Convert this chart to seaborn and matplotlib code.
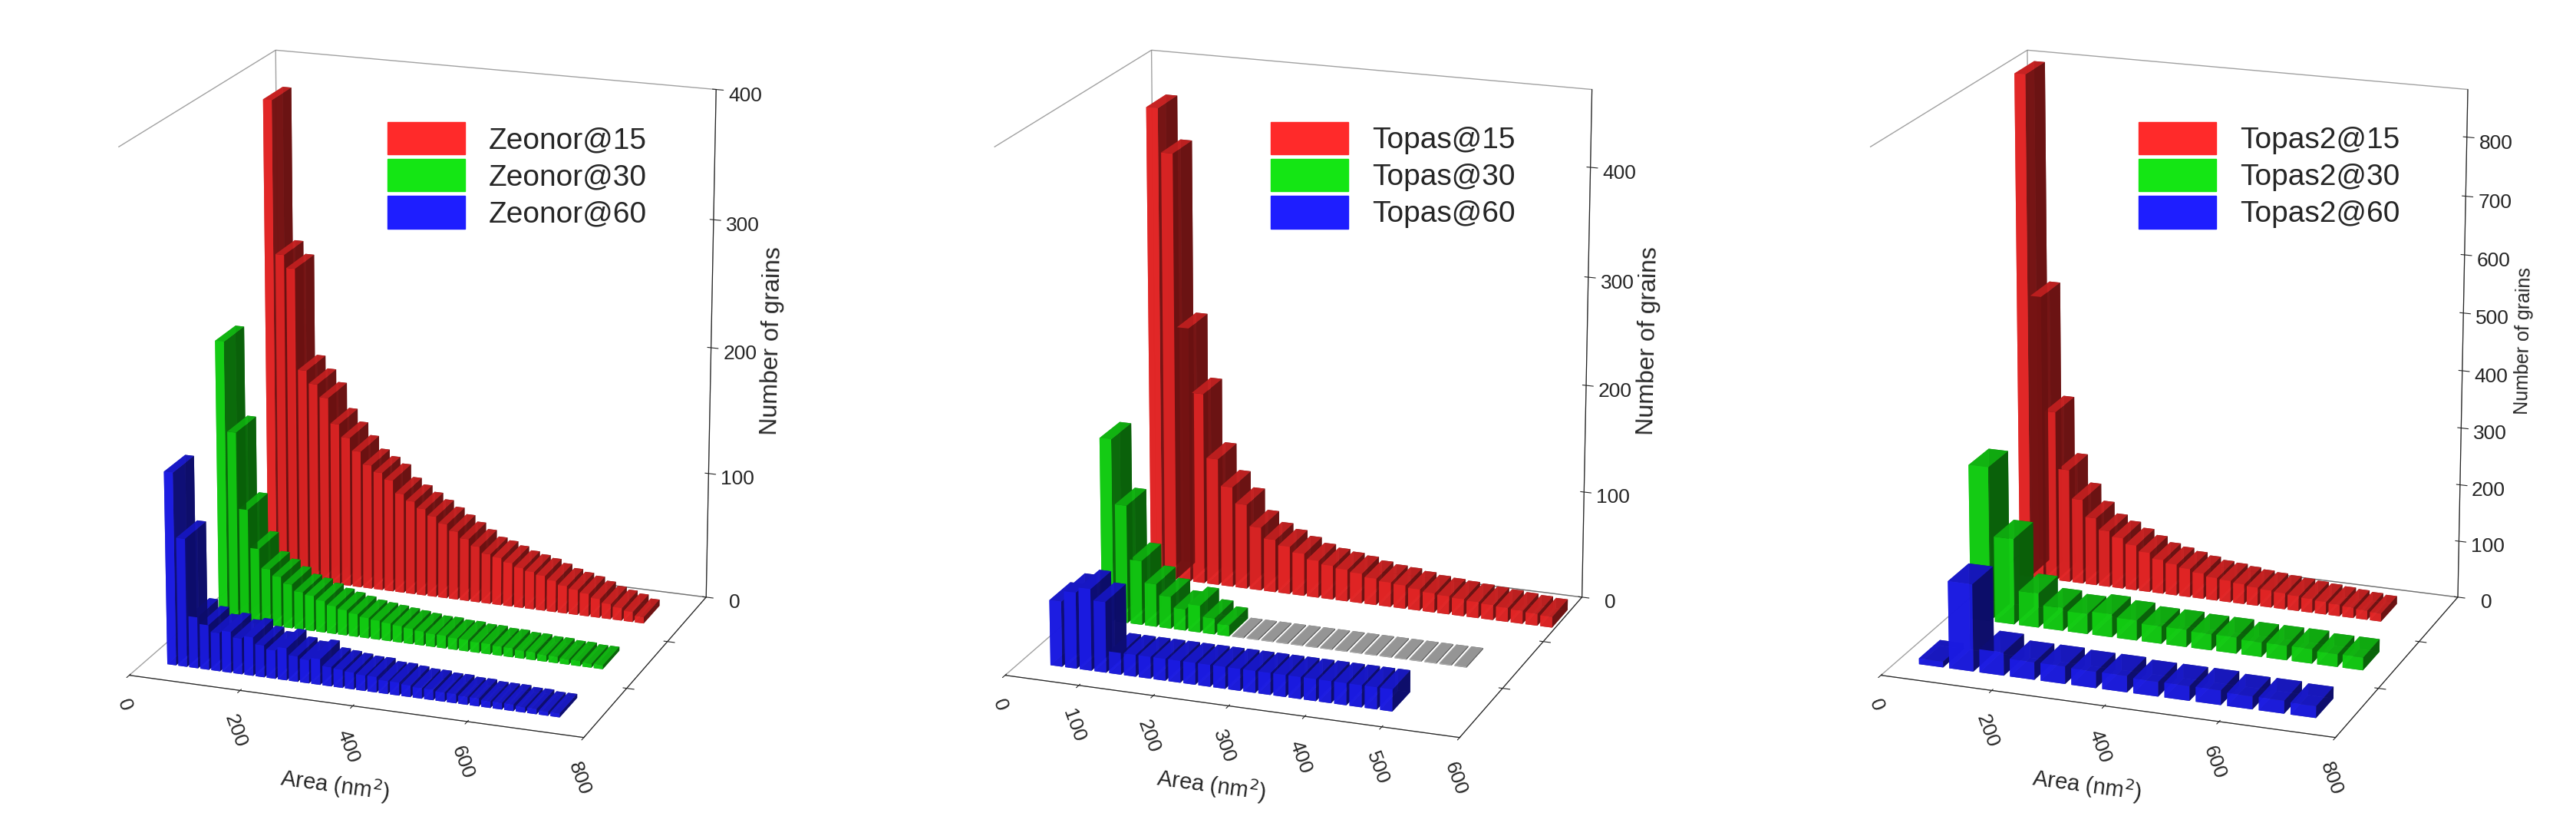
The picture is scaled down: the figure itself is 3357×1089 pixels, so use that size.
import numpy as np
import seaborn as sns
import matplotlib
matplotlib.use('Agg')
import matplotlib.pyplot as plt
from matplotlib.patches import Patch

sns.set_style('white')
plt.rcParams['font.family'] = ['Liberation Sans', 'DejaVu Sans']

# bin width and values (counts per area bin)
zeonor_bin = 20
zeonor_15 = [380, 260, 250, 170, 160, 150, 130, 120, 110, 100, 95, 90, 80, 75, 70, 65, 60, 55,
             50, 45, 40, 38, 35, 32, 30, 28, 25, 22, 20, 18, 15, 12, 10, 8, 5]
zeonor_30 = [220, 150, 90, 60, 45, 40, 35, 30, 28, 25, 22, 20, 18, 16, 15, 14, 13, 12, 11, 10,
             10, 9, 9, 8, 8, 7, 7, 6, 6, 5, 5, 4, 4, 3, 3]
zeonor_60 = [150, 100, 40, 35, 30, 32, 28, 30, 25, 22, 25, 20, 18, 20, 15, 14, 13, 12, 12, 10,
             10, 9, 8, 8, 7, 7, 6, 6, 5, 5, 5, 4, 4, 3, 3]

topas_bin = 20
topas_15 = [440, 400, 240, 180, 120, 95, 80, 60, 50, 45, 40, 35, 32, 30, 28, 25, 23, 22, 20, 18,
            17, 16, 15, 14, 13, 12, 11, 10]
topas_30 = [170, 110, 60, 40, 30, 20, 25, 15, 10, 0, 0, 0, 0, 0, 0, 0, 0, 0, 0, 0, 0, 0, 0, 0, 0]
topas_60 = [60, 70, 75, 65, 20, 20, 20, 20, 20, 20, 20, 20, 20, 20, 20, 20, 20, 20, 20, 20, 20, 20, 20]

topas2_bin = 25
topas2_15 = [880, 500, 300, 200, 150, 120, 100, 90, 80, 70, 60, 55, 50, 45, 40, 38, 35, 32, 30,
             28, 26, 24, 22, 20, 18, 16, 14]
topas2_bin_30 = 45
topas2_30 = [270, 150, 60, 40, 35, 40, 35, 30, 30, 28, 28, 25, 25, 25, 22, 22]
topas2_bin_60 = 55
topas2_60 = [10, 150, 40, 30, 30, 28, 28, 25, 25, 25, 22, 22, 20]

panels = [
    ('Zeonor', [(zeonor_15, zeonor_bin), (zeonor_30, zeonor_bin), (zeonor_60, zeonor_bin)],
     [0, 200, 400, 600, 800], 800, [0, 100, 200, 300, 400], 400),
    ('Topas', [(topas_15, topas_bin), (topas_30, topas_bin), (topas_60, topas_bin)],
     [0, 100, 200, 300, 400, 500, 600], 600, [0, 100, 200, 300, 400], 470),
    ('Topas2', [(topas2_15, topas2_bin), (topas2_30, topas2_bin_30), (topas2_60, topas2_bin_60)],
     [0, 200, 400, 600, 800], 800, [0, 100, 200, 300, 400, 500, 600, 700, 800], 880),
]
labels = ['@15', '@30', '@60']
colors = ['#ff2a2a', '#14e614', '#1e1eff']

fig = plt.figure(figsize=(33.57, 10.89), dpi=100)
for i, (name, series, xt, xmax, zt, zmax) in enumerate(panels):
    ax = fig.add_axes([-0.01 + i * 0.34, 0.0, 0.34, 1.06], projection='3d')
    for k, (vals, bw) in enumerate(series):
        vals = np.array(vals, dtype=float)
        xs = 40 + np.arange(len(vals)) * bw
        yd = 2 - k
        fc = [colors[k] if v > 0 else '#c8c8c8' for v in vals]
        h = np.where(vals > 0, vals, 1)
        ax.bar3d(xs, np.full(len(vals), yd - 0.2), np.zeros(len(vals)), bw * 0.8, 0.4, h,
                 color=fc, shade=True, alpha=0.9, edgecolor='none')
    ax.view_init(elev=18, azim=-70)
    ax.set_xlim(0, xmax)
    ax.set_ylim(-0.5, 2.5)
    ax.set_zlim(0, zmax)
    ax.set_xticks(xt)
    ax.set_yticks([0.5, 1.5])
    ax.set_yticklabels([])
    ax.set_zticks(zt)
    ax.tick_params(labelsize=19)
    ax.tick_params(axis='x', labelrotation=-70, pad=6)
    ax.tick_params(axis='z', pad=14)
    ax.set_xlabel('Area (nm$^2$)', fontsize=21, labelpad=30)
    ax.set_zlabel('Number of grains', fontsize=23 if i < 2 else 18, labelpad=26)
    ax.grid(False)
    for a in (ax.xaxis, ax.yaxis, ax.zaxis):
        a.pane.fill = False
        a.pane.set_edgecolor('#444444')
        a.line.set_color('#222222')
    ax.set_box_aspect((1.4, 1.2, 1.6), zoom=0.92)
    handles = [Patch(color=colors[k], label=name + labels[k]) for k in range(3)]
    ax.legend(handles=handles, loc='upper center', bbox_to_anchor=(0.62, 0.84), fontsize=28,
              frameon=False, handlelength=2.6, handleheight=1.3, labelspacing=0.15)

fig.savefig('out.png', dpi=100)
